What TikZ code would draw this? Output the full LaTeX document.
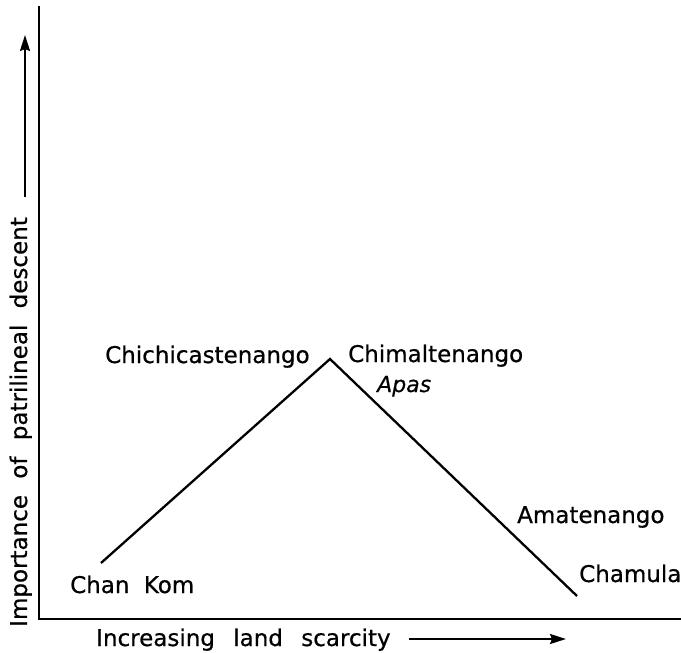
\documentclass[tikz,border=0pt]{standalone}
\usepackage{fontspec}
\setmainfont{DejaVu Sans}
\newfontfamily\lettering{DejaVu Sans}[FakeBold=0.6]
\usetikzlibrary{arrows.meta}
\tikzset{
  lbl/.style={inner sep=0pt, anchor=base west, font=\fontsize{23}{27}\lettering},
  curve/.style={line width=2.3pt},
  axis/.style={line width=2.3pt},
  harrow/.style={line width=2pt, -{Stealth[length=16pt,width=10pt,inset=2pt]}}
}
\begin{document}
\begin{tikzpicture}[x=1pt,y=-1pt]
\useasboundingbox (0,0) rectangle (681,653);
% axes
\coordinate (ytop) at (39,6);
\coordinate (origin) at (39,619);
\coordinate (xend) at (681,619);
\draw[axis] (ytop) -- (origin) -- (xend);
% data line
\coordinate (ck) at (101,563);
\coordinate (peak) at (330,359);
\coordinate (cham) at (577,596);
\draw[curve, line join=miter] (ck) -- (peak) -- (cham);
% labels
\node[lbl] (chichi) at (105,363) {Chichicastenango};
\node[lbl] (chimal) at (348,362) {Chimaltenango};
\node[lbl, font=\fontsize{22}{26}\lettering\itshape] (apas) at (377,392) {Apas};
\node[lbl] (chankom) at (70,593) {Chan\hspace{7pt} Kom};
\node[lbl] (amat) at (517,523) {Amatenango};
\node[lbl] (chamula) at (579,582) {Chamula};
% x axis label
\node[lbl] (xlab) at (96,646) {Increasing\hspace{11pt} land\hspace{11pt} scarcity};
\coordinate (xa1) at (409,639);
\coordinate (xa2) at (566,639);
\draw[harrow] (xa1) -- (xa2);
% y axis label
\node[lbl, rotate=90] (ylab) at (27,627) {Importance\hspace{9pt} of\hspace{9pt} patrilineal\hspace{9pt} descent};
\coordinate (ya1) at (25,197);
\coordinate (ya2) at (25,35);
\draw[harrow] (ya1) -- (ya2);
\end{tikzpicture}
\end{document}
